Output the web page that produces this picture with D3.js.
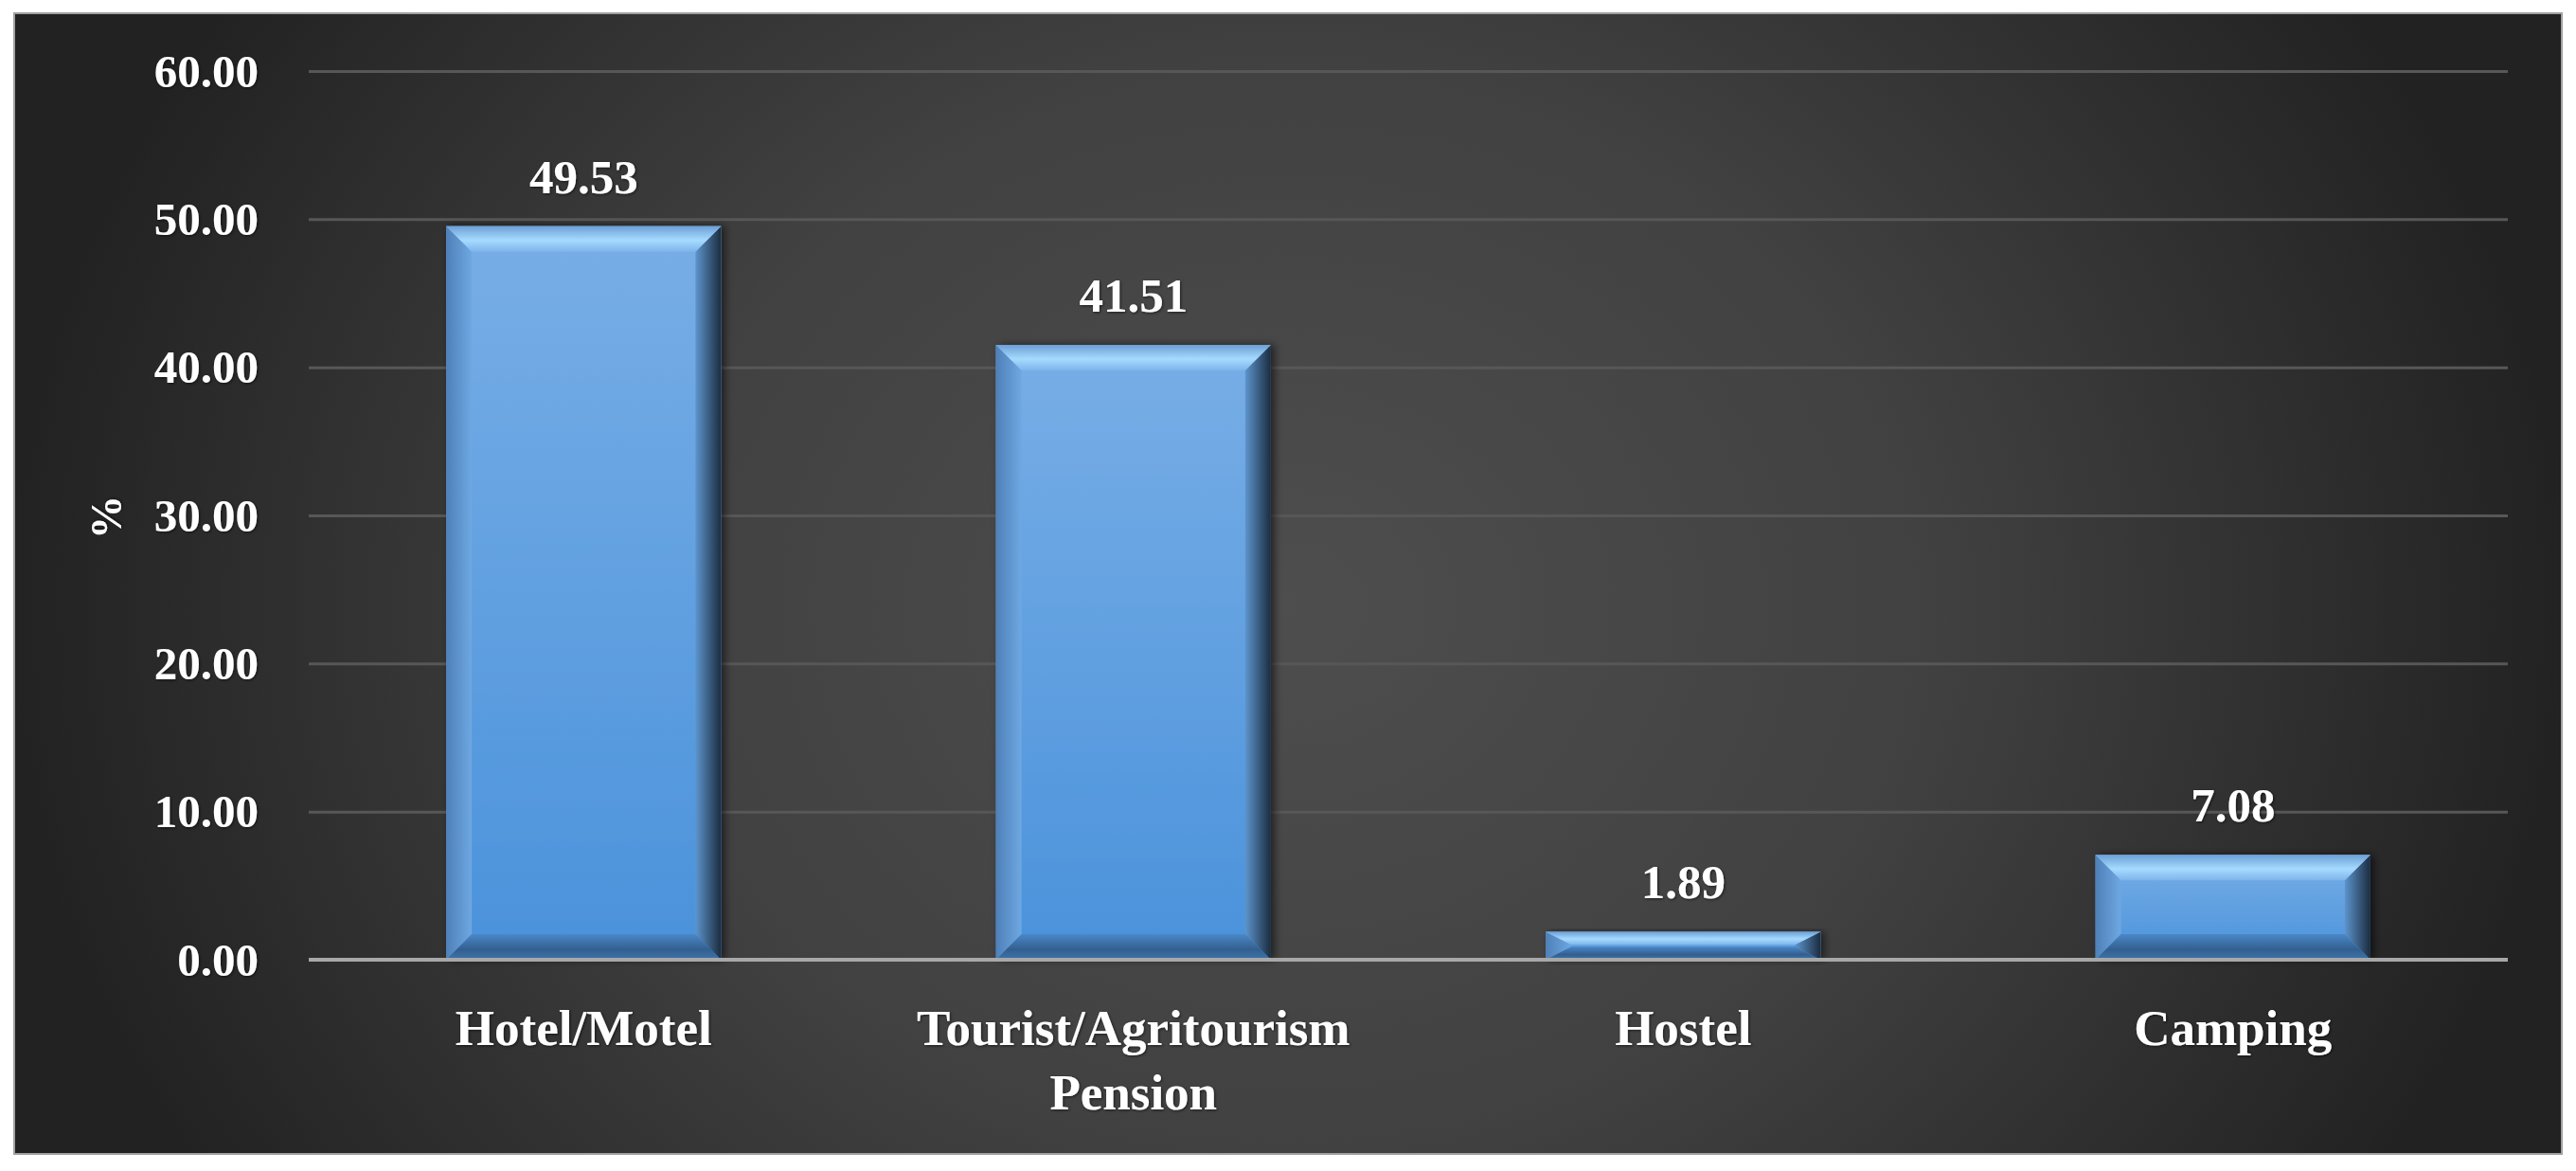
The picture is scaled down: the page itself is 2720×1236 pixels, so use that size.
<!DOCTYPE html>
<html>
<head>
<meta charset="utf-8">
<script src="https://cdn.jsdelivr.net/npm/d3@7"></script>
<style>
  html, body { margin: 0; padding: 0; background: #ffffff; }
  svg { display: block; }
  text { font-family: "Liberation Serif", "DejaVu Serif", serif; font-weight: bold; fill: #ffffff; }
</style>
</head>
<body>
<svg id="chart" width="2720" height="1236"></svg>
<script>
// ---- data ----
const categories = ["Hotel/Motel", "Tourist/Agritourism Pension", "Hostel", "Camping"];
const categoryLines = [["Hotel/Motel"], ["Tourist/Agritourism", "Pension"], ["Hostel"], ["Camping"]];
const values = [49.53, 41.51, 1.89, 7.08];
const yTicks = [0, 10, 20, 30, 40, 50, 60];
const yTitle = "%";

// ---- layout ----
const frame = { x: 15, y: 14, w: 2690, h: 1204 };
const plot = { left: 326, right: 2648, top: 75, bottom: 1013 };

const svg = d3.select("#chart");
const defs = svg.append("defs");

// background gradient
const bg = defs.append("radialGradient").attr("id", "bgGrad")
  .attr("gradientUnits", "userSpaceOnUse")
  .attr("cx", 1360).attr("cy", 640).attr("r", 1350)
  .attr("gradientTransform", "translate(1360,640) scale(1,0.85) translate(-1360,-640)");
bg.append("stop").attr("offset", 0).attr("stop-color", "#4e4e4e");
bg.append("stop").attr("offset", 0.5).attr("stop-color", "#414141");
bg.append("stop").attr("offset", 1).attr("stop-color", "#222222");

function linGrad(id, x1, y1, x2, y2, stops) {
  const g = defs.append("linearGradient").attr("id", id)
    .attr("x1", x1).attr("y1", y1).attr("x2", x2).attr("y2", y2);
  stops.forEach(s => g.append("stop").attr("offset", s[0]).attr("stop-color", s[1]));
}
linGrad("faceGrad", 0, 0, 0, 1, [[0, "#78aee6"], [1, "#4a92db"]]);
linGrad("topGrad", 0, 0, 0, 1, [[0, "#6c9fd6"], [0.55, "#a6dbff"], [1, "#7eb4ea"]]);
linGrad("leftGrad", 0, 0, 1, 0, [[0, "#4f80b8"], [1, "#6ea8e2"]]);
linGrad("rightGrad", 0, 0, 1, 0, [[0, "#5d94cc"], [1, "#1b2c40"]]);
linGrad("bottomGrad", 0, 0, 0, 1, [[0, "#4a88c8"], [0.6, "#335f8f"], [1, "#3f74ad"]]);

const shadow = defs.append("filter").attr("id", "barShadow")
  .attr("x", "-10%").attr("y", "-10%").attr("width", "130%").attr("height", "130%");
shadow.append("feDropShadow").attr("dx", 4).attr("dy", 0).attr("stdDeviation", 4)
  .attr("flood-color", "#000").attr("flood-opacity", 0.55);

const txtShadow = defs.append("filter").attr("id", "txtShadow")
  .attr("x", "-20%").attr("y", "-20%").attr("width", "140%").attr("height", "140%");
txtShadow.append("feDropShadow").attr("dx", 1).attr("dy", 1).attr("stdDeviation", 1.5)
  .attr("flood-color", "#000").attr("flood-opacity", 0.6);

// frame
svg.append("rect")
  .attr("x", frame.x).attr("y", frame.y).attr("width", frame.w).attr("height", frame.h)
  .attr("fill", "url(#bgGrad)").attr("stroke", "#a0a0a0").attr("stroke-width", 2);

// scales
const x = d3.scaleBand().domain(categories).range([plot.left, plot.right])
  .paddingInner(0.5).paddingOuter(0.25);
const y = d3.scaleLinear().domain([0, 60]).range([plot.bottom, plot.top]);

// y axis with gridlines
const yAxis = d3.axisLeft(y).tickValues(yTicks).tickFormat(d => d.toFixed(2))
  .tickSize(-(plot.right - plot.left)).tickPadding(53);
const gy = svg.append("g").attr("transform", `translate(${plot.left},0)`).call(yAxis);
gy.select(".domain").remove();
gy.selectAll(".tick line").attr("stroke", "#575757").attr("stroke-width", 3)
  .attr("opacity", d => d === 0 ? 0 : 1);
gy.selectAll(".tick text")
  .attr("font-size", 49).attr("font-family", "Liberation Serif, serif").attr("font-weight", "bold")
  .attr("fill", "#fff").attr("dy", "0.33em").attr("filter", "url(#txtShadow)");

// y title
svg.append("text")
  .attr("transform", `translate(128,546) rotate(-90)`)
  .attr("text-anchor", "middle")
  .attr("font-size", 46)
  .attr("filter", "url(#txtShadow)")
  .text(yTitle);

// bars
const bars = svg.append("g").selectAll("g.bar")
  .data(categories.map((c, i) => ({ c, v: values[i] })))
  .join("g").attr("class", "bar");

bars.each(function(d) {
  const g = d3.select(this);
  const x0 = x(d.c), x1 = x0 + x.bandwidth();
  const y0 = y(d.v), y1 = y(0);
  const h = y1 - y0;
  const b = Math.min(27, h / 2 - 1, x.bandwidth() / 2);
  const bw = Math.min(27, x.bandwidth() / 2);
  g.append("rect").attr("x", x0).attr("y", y0).attr("width", x1 - x0).attr("height", h)
    .attr("fill", "url(#faceGrad)").attr("filter", "url(#barShadow)");
  const poly = (pts, fill) => g.append("polygon")
    .attr("points", pts.map(p => p.join(",")).join(" ")).attr("fill", fill);
  poly([[x0, y0], [x0 + bw, y0 + b], [x0 + bw, y1 - b], [x0, y1]], "url(#leftGrad)");
  poly([[x1, y0], [x1 - bw, y0 + b], [x1 - bw, y1 - b], [x1, y1]], "url(#rightGrad)");
  poly([[x0, y0], [x1, y0], [x1 - bw, y0 + b], [x0 + bw, y0 + b]], "url(#topGrad)");
  poly([[x0, y1], [x1, y1], [x1 - bw, y1 - b], [x0 + bw, y1 - b]], "url(#bottomGrad)");
});

// value labels
svg.append("g").selectAll("text")
  .data(values)
  .join("text")
  .attr("x", (d, i) => x(categories[i]) + x.bandwidth() / 2)
  .attr("y", d => y(d) - 35)
  .attr("text-anchor", "middle")
  .attr("font-size", 51)
  .attr("filter", "url(#txtShadow)")
  .text(d => d.toFixed(2));

// x axis line
svg.append("line")
  .attr("x1", plot.left).attr("x2", plot.right)
  .attr("y1", y(0)).attr("y2", y(0))
  .attr("stroke", "#a8a8a8").attr("stroke-width", 4);

// category labels
const cl = svg.append("g").selectAll("text")
  .data(categories)
  .join("text")
  .attr("text-anchor", "middle")
  .attr("font-size", 53)
  .attr("filter", "url(#txtShadow)");
cl.each(function(c, i) {
  const t = d3.select(this);
  const cx = x(c) + x.bandwidth() / 2;
  categoryLines[i].forEach((ln, k) => {
    t.append("tspan").attr("x", cx).attr("y", 1103 + k * 68).text(ln);
  });
});
</script>
</body>
</html>
